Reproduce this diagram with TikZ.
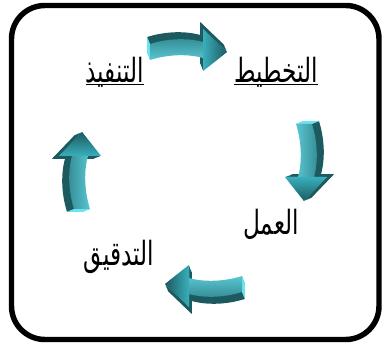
\documentclass[tikz,border=0pt]{standalone}
\usepackage{fontspec}
\newfontfamily\arabicfont[Script=Arabic]{DejaVu Sans}
\TeXXeTstate=1
\usepackage{tikz}
\usetikzlibrary{positioning}
\definecolor{arrowlight}{HTML}{6CE4F0}
\definecolor{arrowmid}{HTML}{3AAFBC}
\definecolor{arrowdark}{HTML}{1C5A60}

% outline of one bent block arrow, pointing along +x
\newcommand\arrowoutline{(-39,-9) -- (-39,7) .. controls (-20,13) and (0,13) .. (14,9)
  -- (14,22) -- (38,-1) -- (14,-20) -- (14,-7) .. controls (0,-3) and (-20,-3) .. (-39,-9) -- cycle}
% arabic word, narrowed a little
\newcommand\arword[1]{\scalebox{0.87}[1.25]{\hbox{\beginR #1\endR}}}
% arabic word with a rule just under the baseline
\newcommand\arwordul[1]{\setbox0\hbox{\arword{#1}}\rlap{\rule[-2.2pt]{\wd0}{0.8pt}}\box0}

\tikzset{
  cyclearrow/.pic={
    \foreach \k in {1,...,7}
      \fill[arrowdark, shift={(-0.4*\k,1.0*\k)}] \arrowoutline;
    \fill[arrowlight] (-39,-9) -- (-39,7) -- (-41.8,14) -- (-41.8,-2) -- cycle;
    \shade[top color=arrowdark!70!arrowmid, bottom color=arrowlight] \arrowoutline;
    \shade[left color=arrowmid, right color=arrowdark] (14,22) -- (38,-1) -- (14,-20) -- cycle;
  }
}

\begin{document}
\begin{tikzpicture}[x=0.75pt,y=0.75pt,
    every node/.style={font=\arabicfont\fontsize{20}{24}\selectfont, inner sep=1pt},
    frame/.style={draw=black, line width=4.1pt, rounded corners=25pt}]
  \useasboundingbox (0,0) rectangle (382,345);
  \draw[frame] (11.5,5.5) rectangle (379,339.5);
  % steps of the cycle
  \node (plan)  at (276,273) {\arwordul{التخطيط}};
  \node (work)  at (271,121) {\arword{العمل}};
  \node (check) at (119,88)  {\arword{التدقيق}};
  \node (act)   at (115,273) {\arwordul{التنفيذ}};
  % arrows round the cycle
  \begin{scope}[transform canvas={shift={(189,294)}}]
    \pic {cyclearrow};
  \end{scope}
  \begin{scope}[transform canvas={shift={(305,182)},rotate=-90}]
    \pic {cyclearrow};
  \end{scope}
  \begin{scope}[transform canvas={shift={(203,60)},rotate=180}]
    \pic {cyclearrow};
  \end{scope}
  \begin{scope}[transform canvas={shift={(81,175)},rotate=90}]
    \pic {cyclearrow};
  \end{scope}
\end{tikzpicture}
\end{document}
